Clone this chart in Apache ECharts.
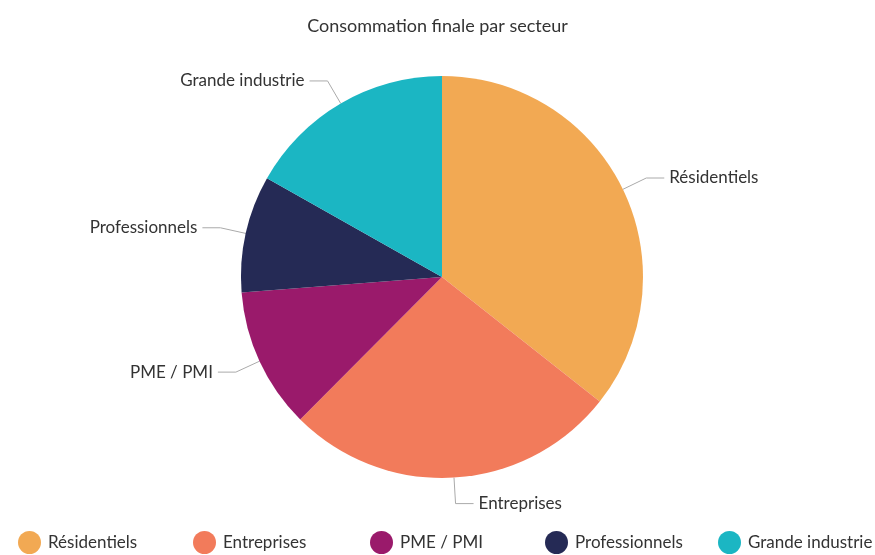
<!DOCTYPE html>
<html><head><meta charset="utf-8">
<script src="https://cdn.jsdelivr.net/npm/echarts@6/dist/echarts.min.js"></script>
<style>html,body{margin:0;padding:0;background:#fff}#c{width:875px;height:555px}</style>
</head><body><div id="c"></div>
<script>
const categories = ['Résidentiels', 'Entreprises', 'PME / PMI', 'Professionnels', 'Grande industrie'];
const values = [35.6, 26.8, 11.3, 9.4, 16.8];
const colors = ['#f2a953', '#f27b5b', '#9a1a6b', '#252a55', '#1bb6c3'];
const legendLeft = [13, 188, 365, 540, 713];

const chart = echarts.init(document.getElementById('c'));
chart.setOption({
  animation: false,
  color: colors,
  title: {
    text: 'Consommation finale par secteur',
    left: 'center', top: 12,
    textStyle: { fontFamily: 'Lato', fontSize: 18, fontWeight: 'normal', color: '#333' }
  },
  legend: categories.map((n, i) => ({
    top: 526, left: legendLeft[i],
    icon: 'circle', itemWidth: 23, itemHeight: 23,
    textStyle: { fontFamily: 'Lato', fontSize: 17, color: '#333', padding: [0, 0, 0, 2] },
    data: [n]
  })),
  series: [{
    type: 'pie',
    center: [442, 277],
    radius: 201,
    startAngle: 90,
    clockwise: true,
    data: categories.map((n, i) => ({ name: n, value: values[i] })),
    label: { show: true, formatter: '{b}', fontFamily: 'Lato', fontSize: 17, color: '#333' },
    labelLine: { show: true, length: 26, length2: 18, lineStyle: { color: '#aaa', width: 1 } },
    itemStyle: { borderWidth: 0 }
  }]
});
</script></body></html>
